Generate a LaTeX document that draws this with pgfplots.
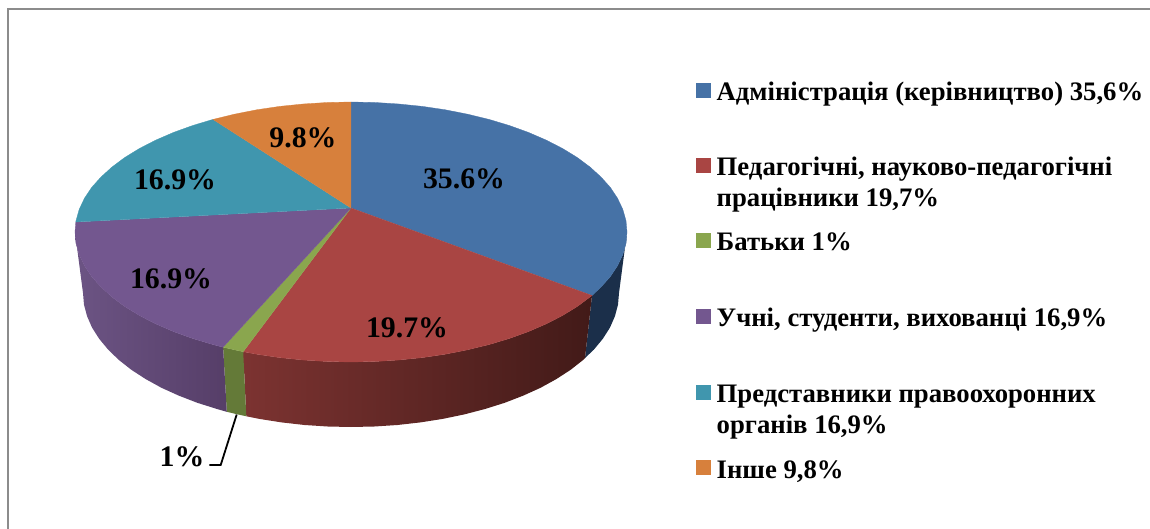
\documentclass[border=0pt]{standalone}
\usepackage{fontspec}
\setmainfont{Liberation Serif}
\usepackage{pgfplots}
\pgfplotsset{compat=1.18}
\definecolor{cblue}{HTML}{4672A6}
\definecolor{cred}{HTML}{A94543}
\definecolor{cgreen}{HTML}{8AA64E}
\definecolor{cpurple}{HTML}{73578F}
\definecolor{cteal}{HTML}{4096AE}
\definecolor{corange}{HTML}{D7803C}
\definecolor{cframe}{HTML}{8C8C8C}
\newcommand{\lab}[3]{\node[anchor=base,font=\fontsize{29.8}{31}\selectfont\bfseries] at (axis cs:#1,#2) {#3};}
\newcommand{\leg}[3]{\node[anchor=base west,inner sep=0pt,font=\fontsize{26.7}{28}\selectfont\bfseries] at (axis cs:#1,#2) {#3};}
\begin{document}
\begin{tikzpicture}
\begin{axis}[scale only axis,width=1150pt,height=529pt,hide axis,
  xmin=0,xmax=1150,ymin=0,ymax=529,y dir=reverse,clip=true]
\path (axis cs:0,0) rectangle (axis cs:1150,529);
% frame
\addplot[cframe,line width=2pt,no marks] coordinates {(8.3,529) (8.3,9.5) (1150,9.5)};
% side walls
\addplot[draw=none,fill={rgb,255:red,27;green,47;blue,74},no marks] coordinates {
(627,232)(626,243.3)(622.8,254.6)(617.6,265.6)(610.4,276.5)(601.1,286.9)(592,295.5)
(585,358)(593.9,349.6)(602.8,338.8)(609.9,327.7)(614.9,316.3)(618,304.7)(619,293)};
\addplot[draw=none,shade,left color={rgb,255:red,124;green,51;blue,49},right color={rgb,255:red,66;green,26;blue,24},no marks] coordinates {
(592,295.5)(590,297)(577.1,306.6)(562.4,315.6)(546.2,323.9)(528.4,331.6)(509.3,338.5)(489,344.6)(467.6,349.8)(445.4,354.2)(422.4,357.6)(398.9,360)(375.1,361.5)(351,362)(326.9,361.5)(303.1,360)(279.6,357.6)(256.6,354.2)(243.2,351.7)
(246.3,416.3)(259.3,418.9)(281.6,422.4)(304.5,425)(327.6,426.5)(351,427)(374.4,426.5)(397.5,425)(420.4,422.4)(442.7,418.9)(464.3,414.4)(485,409)(504.7,402.8)(523.3,395.6)(540.5,387.8)(556.3,379.1)(570.5,369.9)(583.1,360)(585,358)};
\addplot[draw=none,fill={rgb,255:red,100;green,122;blue,56},no marks] coordinates {
(243.2,351.7)(234.4,349.8)(223.1,347.2)(226.8,411.8)(237.7,414.4)(246.3,416.3)};
\addplot[draw=none,shade,left color={rgb,255:red,108;green,84;blue,132},right color={rgb,255:red,86;green,62;blue,104},no marks] coordinates {
(223.1,347.2)(213,344.6)(192.7,338.5)(173.6,331.6)(155.8,323.9)(139.6,315.6)(124.9,306.6)(112,297)(100.9,286.9)(91.6,276.5)(84.4,265.6)(79.2,254.6)(76,243.3)(75,232)
(83,293)(84,304.7)(87.1,316.3)(92.1,327.7)(99.2,338.8)(108.1,349.6)(118.9,360)(131.5,369.9)(145.7,379.1)(161.5,387.8)(178.7,395.6)(197.3,402.8)(217,409)(226.8,411.8)};
% top faces
\addplot[fill=cblue,draw=cblue,line width=0.3pt,no marks] coordinates {
(351,208)(351,102)(375.1,102.5)(398.9,104)(422.4,106.4)(445.4,109.8)(467.6,114.2)(489,119.4)(509.3,125.5)(528.4,132.4)(546.2,140.1)(562.4,148.4)(577.1,157.4)(590,167)(601.1,177.1)(610.4,187.5)(617.6,198.4)(622.8,209.4)(626,220.7)(627,232)(626,243.3)(622.8,254.6)(617.6,265.6)(610.4,276.5)(601.1,286.9)(592,295.5)};
\addplot[fill=cred,draw=cred,line width=0.3pt,no marks] coordinates {
(351,208)(592,295.5)(590,297)(577.1,306.6)(562.4,315.6)(546.2,323.9)(528.4,331.6)(509.3,338.5)(489,344.6)(467.6,349.8)(445.4,354.2)(422.4,357.6)(398.9,360)(375.1,361.5)(351,362)(326.9,361.5)(303.1,360)(279.6,357.6)(256.6,354.2)(243.2,351.7)};
\addplot[fill=cgreen,draw=cgreen,line width=0.3pt,no marks] coordinates {
(351,208)(243.2,351.7)(234.4,349.8)(223.1,347.2)};
\addplot[fill=cpurple,draw=cpurple,line width=0.3pt,no marks] coordinates {
(351,208)(223.1,347.2)(213,344.6)(192.7,338.5)(173.6,331.6)(155.8,323.9)(139.6,315.6)(124.9,306.6)(112,297)(100.9,286.9)(91.6,276.5)(84.4,265.6)(79.2,254.6)(76,243.3)(75,232)(75.8,222)};
\addplot[fill=cteal,draw=cteal,line width=0.3pt,no marks] coordinates {
(351,208)(75.8,222)(76,220.7)(79.2,209.4)(84.4,198.4)(91.6,187.5)(100.9,177.1)(112,167)(124.9,157.4)(139.6,148.4)(155.8,140.1)(173.6,132.4)(192.7,125.5)(213,119.4)};
\addplot[fill=corange,draw=corange,line width=0.3pt,no marks] coordinates {
(351,208)(213,119.4)(234.4,114.2)(256.6,109.8)(279.6,106.4)(303.1,104)(326.9,102.5)(351,102)};
% leader
\addplot[black,line width=1.8pt,no marks] coordinates {(236.7,414.5)(220.7,465)(209.3,465)};
% legend keys
\addplot[only marks,mark=square*,mark size=7pt,mark options={fill=cblue,draw=cblue,line width=0pt}] coordinates {(703,91)};
\addplot[only marks,mark=square*,mark size=7pt,mark options={fill=cred,draw=cred,line width=0pt}] coordinates {(703,166)};
\addplot[only marks,mark=square*,mark size=7pt,mark options={fill=cgreen,draw=cgreen,line width=0pt}] coordinates {(703,241)};
\addplot[only marks,mark=square*,mark size=7pt,mark options={fill=cpurple,draw=cpurple,line width=0pt}] coordinates {(703,316)};
\addplot[only marks,mark=square*,mark size=7pt,mark options={fill=cteal,draw=cteal,line width=0pt}] coordinates {(703,392)};
\addplot[only marks,mark=square*,mark size=7pt,mark options={fill=corange,draw=corange,line width=0pt}] coordinates {(703,467)};
% data labels
\lab{464}{189}{35.6\%}
\lab{407}{337}{19.7\%}
\lab{171}{288}{16.9\%}
\lab{175}{190}{16.9\%}
\lab{303}{148}{9.8\%}
\lab{182}{466}{1\%}
% legend text
\leg{716.5}{101}{Адміністрація (керівництво) 35,6\%}
\leg{716.5}{176}{Педагогічні, науково-педагогічні}
\leg{716.5}{207}{працівники 19,7\%}
\leg{716.5}{251}{Батьки 1\%}
\leg{716.5}{326}{Учні, студенти, вихованці 16,9\%}
\leg{716.5}{402}{Представники правоохоронних}
\leg{716.5}{433}{органів 16,9\%}
\leg{716.5}{478}{Інше 9,8\%}
\end{axis}
\end{tikzpicture}
\end{document}
